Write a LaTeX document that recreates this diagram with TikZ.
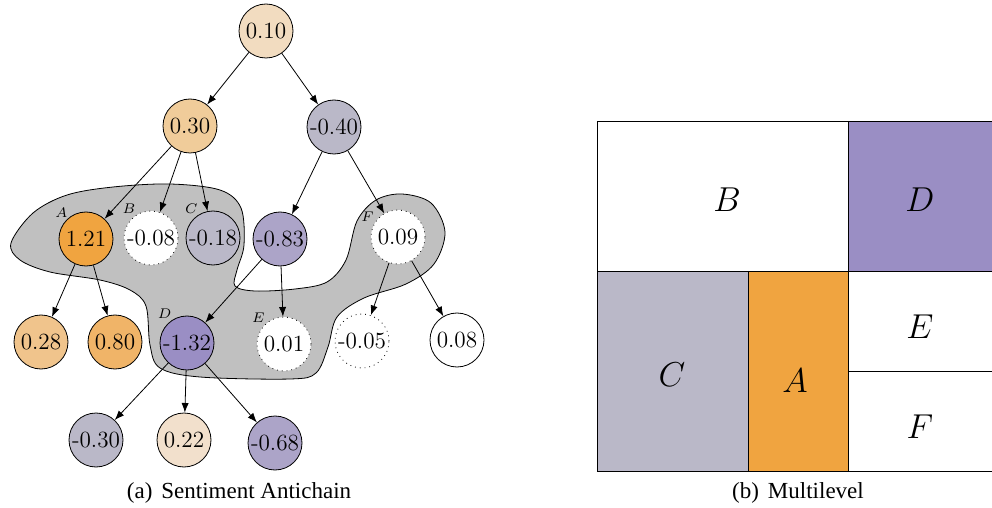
\documentclass[tikz,border=0pt]{standalone}
\usepackage{fontspec}
\newfontfamily\capfont{Liberation Serif}
\usetikzlibrary{arrows.meta, positioning}
\definecolor{beigeroot}{RGB}{242,220,192}
\definecolor{beigelow}{RGB}{242,224,204}
\definecolor{orangelight}{RGB}{240,204,154}
\definecolor{orangesoft}{RGB}{240,196,140}
\definecolor{orangemid}{RGB}{240,180,104}
\definecolor{orangedeep}{RGB}{240,164,64}
\definecolor{greylav}{RGB}{186,184,200}
\definecolor{purplemid}{RGB}{172,164,200}
\definecolor{purpledeep}{RGB}{154,142,196}
\definecolor{blobgrey}{RGB}{192,192,192}
\tikzset{
  orangedeep/.style={fill=orangedeep},
  purpledeep/.style={fill=purpledeep},
  greylav/.style={fill=greylav},
}

\begin{document}
\begin{tikzpicture}[
  x=0.5pt,y=-0.5pt,
  tnode/.style={
    circle, draw, thin, minimum size=27pt, inner sep=0pt,
    font=\fontsize{11.6}{13}\selectfont
  },
  dotnode/.style={tnode, fill=white, dotted},
  tag/.style={font=\fontsize{7.5}{8}\selectfont, inner sep=0.3pt},
  arrow/.style={-Latex, thin},
  blob/.style={draw, thin, fill=blobgrey},
  cell/.style={draw, thin},
  letter/.style={font=\fontsize{18}{21}\selectfont},
  caption/.style={font=\capfont\fontsize{11.5}{13}\selectfont}
]
\useasboundingbox (0,0) rectangle (992,508);

% ---- Antichain region behind the tree ----
\draw[blob] plot[smooth cycle, tension=0.55] coordinates {
  (11,243) (33,213) (67,195) (113,187) (170,184) (220,190) (241,208)
  (244,245) (237,270) (235,286) (255,291) (295,289) (327,282) (346,260)
  (357,221) (376,200) (402,194) (431,203) (445,232) (434,264) (406,284)
  (364,298) (337,317) (328,347) (316,373) (290,379) (200,377) (160,368)
  (150,345) (146,306) (130,290) (100,280) (50,272) (20,260)};

% ---- Tree nodes ----
\node[tnode, fill=beigeroot]   (r)   at (266,31)  {0.10};
\node[tnode, fill=orangelight] (p)   at (190,126) {0.30};
\node[tnode, greylav]          (q)   at (334,127) {-0.40};

\node[tnode, orangedeep, label={[tag]130:$A$}] (a) at (86,239)  {1.21};
\node[dotnode, label={[tag]122:$B$}]           (b) at (151,238) {-0.08};
\node[tnode, greylav, label={[tag]122:$C$}]    (c) at (213,238) {-0.18};
\node[tnode, fill=purplemid]                   (m) at (280,239) {-0.83};
\node[dotnode, label={[tag]148:$F$}]           (f) at (398,237) {0.09};

\node[tnode, fill=orangesoft]                  (a1) at (41,342)  {0.28};
\node[tnode, fill=orangemid]                   (a2) at (115,342) {0.80};
\node[tnode, purpledeep, label={[tag]122:$D$}] (d)  at (187,343) {-1.32};
\node[dotnode, label={[tag]132:$E$}]           (e)  at (284,344) {0.01};
\node[dotnode]                                 (f1) at (362,341) {-0.05};
\node[tnode, fill=white]                       (f2) at (457,340) {0.08};

\node[tnode, greylav]          (d1) at (96,440)  {-0.30};
\node[tnode, fill=beigelow]    (d2) at (184,440) {0.22};
\node[tnode, fill=purplemid]   (d3) at (275,443) {-0.68};

% ---- Edges ----
\foreach \u/\v in {r/p, r/q, p/a, p/b, p/c, q/m, q/f, a/a1, a/a2,
                   m/d, m/e, f/f1, f/f2, d/d1, d/d2, d/d3} {
  \draw[arrow] (\u) -- (\v);
}

% ---- Multilevel partition ----
\fill[greylav]    (597,271) rectangle (748,471);
\fill[orangedeep] (748,271) rectangle (848,471);
\fill[purpledeep] (848,121) rectangle (994,271);
\draw[cell] (994,121) -- (597,121) -- (597,471) -- (994,471);
\draw[cell] (848,121) -- (848,471);
\draw[cell] (597,271) -- (994,271);
\draw[cell] (748,271) -- (748,471);
\draw[cell] (848,371) -- (994,371);

\node[letter] (lb) at (727,200) {$B$};
\node[letter] (ld) at (920,200) {$D$};
\node[letter] (lc) at (672,375) {$C$};
\node[letter] (la) at (795,381) {$A$};
\node[letter] (le) at (920,327) {$E$};
\node[letter] (lf) at (920,427) {$F$};

% ---- Captions ----
\node[caption] (capa) at (239,493) {(a)\hspace{4.5pt}Sentiment Antichain};
\node[caption] (capb) at (798,493) {(b)\hspace{4.5pt}Multilevel};

\end{tikzpicture}
\end{document}
